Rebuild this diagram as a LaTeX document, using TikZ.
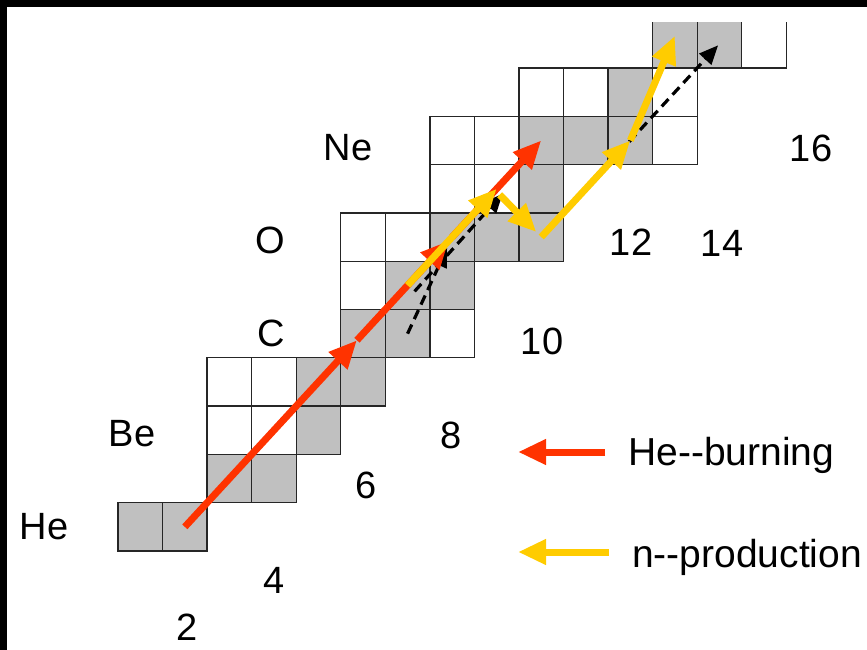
\documentclass[tikz,border=0pt]{standalone}
\usepackage{fontspec}
\setmainfont{Liberation Sans}
\usepackage{tikz}
\usetikzlibrary{arrows.meta, positioning}
\definecolor{cellgray}{HTML}{C0C0C0}
\definecolor{burn}{HTML}{FF3300}
\definecolor{neutron}{HTML}{FFCC00}
\newcommand{\dd}{-\kern0pt-}

\begin{document}
\begin{tikzpicture}[x=1pt, y=-1pt,
    cell/.style={rectangle, draw=black!85, line width=1.3pt, minimum width=44.55pt, minimum height=48.3pt, inner sep=0pt},
    heburn/.style={burn, line width=7pt, -{Triangle[length=28pt,width=24pt]}},
    nprod/.style={neutron, line width=7pt, -{Triangle[length=28pt,width=24pt]}},
    nsource/.style={black, line width=3.2pt, dash pattern=on 10pt off 6pt, -{Triangle[length=19pt,width=16pt]}},
    elem/.style={inner sep=0pt, font=\fontsize{38}{40}\selectfont},
    legend/.style={inner sep=0pt, anchor=base west, font=\fontsize{39}{41}\selectfont}]
    \useasboundingbox (0,0) rectangle (867,650);
    \fill[white] (0,0) rectangle (867,650);
    \fill[black] (0,0) rectangle (7,650);
    \fill[black] (0,0) rectangle (867,7);

    \foreach \cx/\ry/\tone in {0/0/cellgray, 1/0/cellgray,
        2/1/cellgray, 3/1/cellgray,
        2/2/white, 3/2/white, 4/2/cellgray,
        2/3/white, 3/3/white, 4/3/cellgray, 5/3/cellgray,
        5/4/cellgray, 6/4/cellgray, 7/4/white,
        5/5/white, 6/5/cellgray, 7/5/cellgray,
        5/6/white, 6/6/white, 7/6/cellgray, 8/6/cellgray, 9/6/cellgray,
        7/7/white, 8/7/white, 9/7/cellgray,
        7/8/white, 8/8/white, 9/8/cellgray, 10/8/cellgray, 11/8/cellgray, 12/8/white,
        9/9/white, 10/9/white, 11/9/cellgray, 12/9/white,
        12/10/cellgray, 13/10/cellgray, 14/10/white}
        \node (c\cx-\ry) [cell, fill=\tone] at ({118+44.55*(\cx+0.5)}, {551-48.3*(\ry+0.5)}) {};
    \fill[white] (8,7) rectangle (867,22);

    \node (lhe) [elem] at (44,527) {He};
    \node (lbe) [elem] at (132,434) {Be};
    \node (lc) [elem] at (271,333) {C};
    \node (lo) [elem] at (270,240) {O};
    \node (lne) [elem] at (348,148) {Ne};

    \node (n2) [elem] at (187,627) {2};
    \node (n4) [elem] at (274,580) {4};
    \node (n6) [elem] at (366,485) {6};
    \node (n8) [elem] at (451,435) {8};
    \node (n10) [elem] at (542,341) {10};
    \node (n12) [elem] at (631,242) {12};
    \node (n14) [elem] at (722,243) {14};
    \node (n16) [elem] at (811,148) {16};

    \coordinate (ne22) at ({118+44.55*10.5}, {551-48.3*7.5});
    \draw [nsource, shorten >=12pt] (c6-4.center) -- (c7-6.center);
    \draw [nsource] ([xshift=7pt, yshift=-6pt]c6-5.center) -- ([xshift=6pt, yshift=-5pt]c8-7.center);
    \draw [nsource, shorten >=2pt] (ne22) -- (c13-10.center);

    \draw [heburn, shorten >=9pt] (c1-0.center) -- (c5-4.center);
    \draw [heburn, shorten <=-9pt, shorten >=5pt] (c5-4.center) -- (c7-6.center);
    \draw [heburn] (c7-6.center) -- (c9-8.center);

    \draw [nprod] (c6-5.center) -- (c8-7.center);
    \draw [nprod, shorten >=7pt] ([xshift=3pt, yshift=-6pt]c8-7.center) -- (c9-6.center);
    \draw [nprod] (c9-6.center) -- (c11-8.center);
    \draw [nprod] (c11-8.center) -- ([yshift=8pt]c12-10.center);

    \coordinate (lb1) at (605,452);
    \coordinate (lb0) at (518,452);
    \draw [heburn] (lb1) -- (lb0);
    \node (tburn) [legend] at (628,465) {He\dd burning};
    \coordinate (ln1) at (609,552);
    \coordinate (ln0) at (518,552);
    \draw [nprod] (ln1) -- (ln0);
    \node (tprod) [legend] at (632,567) {n\dd production};
\end{tikzpicture}
\end{document}
